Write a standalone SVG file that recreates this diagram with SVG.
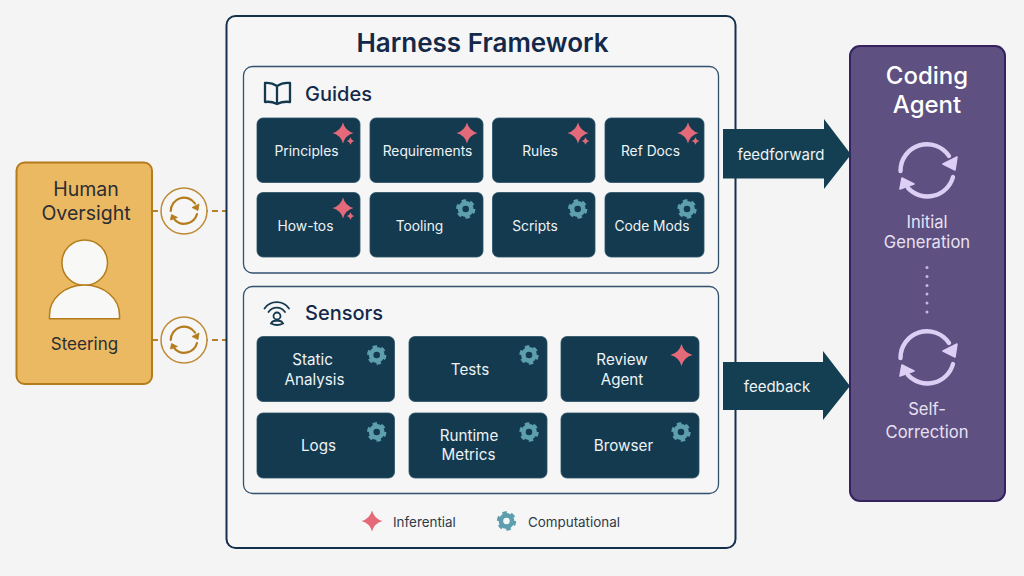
<svg xmlns="http://www.w3.org/2000/svg" width="1024" height="576" viewBox="0 0 1024 576">
<style>
text{font-family:Inter,"Noto Sans","Liberation Sans",sans-serif;text-anchor:middle}
.card{fill:#143a50;stroke:#2a5066;stroke-width:.8}
.cl{fill:#eef3f5;font-size:13.8px}
.cs{fill:#eef3f5;font-size:15.2px}
.panel{fill:#f6f6f6;stroke:#33506e;stroke-width:1.3}
.h{fill:#14294a;font-size:20px;font-weight:500;text-anchor:start}
.ag{fill:#e8e1f2;font-size:16.6px}
.lg{fill:#2e3a46;font-size:13.4px;text-anchor:start}
.dash{stroke:#b8802a;stroke-width:2;stroke-dasharray:6 4;fill:none}
.arr{fill:#143f52}
</style>
<defs>
<path id="star" d="M0-10.500Q2.200-2.200 10.500 0Q2.200 2.200 0 10.500Q-2.200 2.200-10.500 0Q-2.200-2.200 0-10.500Z" fill="#e46a7a"/>
<g id="star2"><use href="#star"/><use href="#star" transform="translate(7.500 8) scale(.36)"/></g>
<g id="gear" fill="none" stroke="#5e9fae">
<circle r="5.600" stroke-width="4.600"/>
<circle r="8.100" stroke-width="3.200" stroke-dasharray="4.400 4.080"/>
</g>
<g id="cyc">
<path d="M-26.500 0A26.500 26.500 0 0 1 22-15" fill="none" stroke="currentColor" stroke-width="4.400" stroke-linecap="round"/>
<path d="M26 6A26.500 26.500 0 0 1-19 17" fill="none" stroke="currentColor" stroke-width="4.400" stroke-linecap="round"/>
<path d="M16-7L30-14L28-1ZM-27 18L-25 7L-13 13Z" fill="currentColor" stroke="currentColor" stroke-width="1.600" stroke-linejoin="round"/>
</g>
</defs>
<rect width="1024" height="576" fill="#f4f4f4"/>

<g id="connectors">
<path class="dash" d="M152 211H226M152 340H226"/>
</g>

<g id="harness">
<rect x="226.500" y="16" width="509" height="532" rx="9" fill="#f6f6f6" stroke="#14304d" stroke-width="2"/>
<text x="482.500" y="52" fill="#14294a" style="font-size:26px;font-weight:600">Harness Framework</text>
</g>

<g id="guides">
<rect class="panel" x="243.500" y="66.500" width="475" height="206.500" rx="9"/>
<path d="M277 86Q271 82 265 83V102Q271 101 277 104Q283 101 290 102V83Q283 82 277 86V104" fill="none" stroke="#14394f" stroke-width="2.300" stroke-linejoin="round"/>
<text class="h" x="305" y="100.500">Guides</text>
</g>

<g id="g-principles"><rect class="card" x="257" y="118" width="103" height="64.500" rx="6"/><text class="cl" x="306.500" y="156">Principles</text><use href="#star2" transform="translate(343 133)"/></g>
<g id="g-requirements"><rect class="card" x="370" y="118" width="113" height="64.500" rx="6"/><text class="cl" x="427.500" y="156">Requirements</text><use href="#star" transform="translate(467 133)"/></g>
<g id="g-rules"><rect class="card" x="492.500" y="118" width="102.500" height="64.500" rx="6"/><text class="cl" x="540" y="156">Rules</text><use href="#star2" transform="translate(578 133)"/></g>
<g id="g-refdocs"><rect class="card" x="605" y="118" width="99" height="64.500" rx="6"/><text class="cl" x="650.500" y="156">Ref Docs</text><use href="#star2" transform="translate(688 133)"/></g>
<g id="g-howtos"><rect class="card" x="257" y="192.500" width="103" height="64.500" rx="6"/><text class="cl" x="305.500" y="231">How-tos</text><use href="#star2" transform="translate(343 208)"/></g>
<g id="g-tooling"><rect class="card" x="370" y="192.500" width="113" height="64.500" rx="6"/><text class="cl" x="419.500" y="231">Tooling</text><use href="#gear" transform="translate(465.700 209)"/></g>
<g id="g-scripts"><rect class="card" x="492.500" y="192.500" width="102.500" height="64.500" rx="6"/><text class="cl" x="535" y="231">Scripts</text><use href="#gear" transform="translate(577.700 209)"/></g>
<g id="g-codemods"><rect class="card" x="605" y="192.500" width="99" height="64.500" rx="6"/><text class="cl" x="652" y="231">Code Mods</text><use href="#gear" transform="translate(687 209)"/></g>

<g id="sensors">
<rect class="panel" x="243.500" y="286.500" width="475" height="207" rx="9"/>
<g fill="none" stroke="#14394f" stroke-width="1.800" stroke-linecap="round">
<path d="M264.500 308.500A15 15 0 0 1 289 308.500M268.500 312A10 10 0 0 1 285 312"/>
<circle cx="277" cy="316" r="3.500"/>
<path d="M271 323.500Q273 320 277 321Q281 320 283 323.500Q277 326.500 271 323.500Z"/>
</g>
<text class="h" x="305" y="319.500">Sensors</text>
</g>

<g id="s-static"><rect class="card" x="257" y="336.500" width="137.500" height="65" rx="6"/><text class="cs" x="312.500" y="365">Static</text><text class="cs" x="314.500" y="384.500">Analysis</text><use href="#gear" transform="translate(376.700 355)"/></g>
<g id="s-tests"><rect class="card" x="409" y="336.500" width="138" height="65" rx="6"/><text class="cs" x="470" y="374.500">Tests</text><use href="#gear" transform="translate(529 355)"/></g>
<g id="s-review"><rect class="card" x="561" y="336.500" width="138" height="65" rx="6"/><text class="cs" x="622" y="365">Review</text><text class="cs" x="622" y="384.500">Agent</text><use href="#star" transform="translate(681.500 355) scale(1.050)"/></g>
<g id="s-logs"><rect class="card" x="257" y="413" width="137.500" height="65" rx="6"/><text class="cs" x="318.500" y="451">Logs</text><use href="#gear" transform="translate(376.700 432)"/></g>
<g id="s-runtime"><rect class="card" x="409" y="413" width="138" height="65" rx="6"/><text class="cs" x="469" y="441">Runtime</text><text class="cs" x="468.500" y="460">Metrics</text><use href="#gear" transform="translate(529 432)"/></g>
<g id="s-browser"><rect class="card" x="561" y="413" width="138" height="65" rx="6"/><text class="cs" x="623.500" y="451">Browser</text><use href="#gear" transform="translate(681 432)"/></g>

<g id="legend">
<use href="#star" transform="translate(372 521)"/>
<text class="lg" x="393" y="527">Inferential</text>
<use href="#gear" transform="translate(506.500 521)"/>
<text class="lg" x="528" y="527">Computational</text>
</g>

<g id="human">
<rect x="16.500" y="162.500" width="135.500" height="221.500" rx="8" fill="#ebb962" stroke="#b47c1c" stroke-width="2"/>
<text x="86" y="196" fill="#2b2d33" style="font-size:19.500px;font-weight:400">Human</text>
<text x="86" y="220" fill="#2b2d33" style="font-size:19.500px;font-weight:400">Oversight</text>
<circle cx="84.700" cy="262.700" r="22.800" fill="#f8f8f6" stroke="#b47c1c" stroke-width="1.500"/>
<path d="M49.500 318.700V315A35 30 0 0 1 119.500 315V318.700Z" fill="#f8f8f6" stroke="#b47c1c" stroke-width="1.500"/>
<text x="84.500" y="350" fill="#2b2d33" style="font-size:17px">Steering</text>
</g>

<g id="loop-top"><circle cx="184" cy="211" r="23" fill="#f6f6f6" stroke="#bd8a36" stroke-width="1.500"/><use href="#cyc" transform="translate(184 211) scale(.5)" color="#b47c1c"/></g>
<g id="loop-bottom"><circle cx="184" cy="340" r="23" fill="#f6f6f6" stroke="#bd8a36" stroke-width="1.500"/><use href="#cyc" transform="translate(184 340) scale(.5)" color="#b47c1c"/></g>

<g id="agent">
<rect x="850" y="46" width="155" height="455" rx="10" fill="#5e5080" stroke="#35235f" stroke-width="2"/>
<text x="927" y="84" fill="#fff" style="font-size:24px;font-weight:500">Coding</text>
<text x="927" y="113" fill="#fff" style="font-size:24px;font-weight:500">Agent</text>
<use href="#cyc" transform="translate(927 171)" color="#dccff5"/>
<text class="ag" x="927" y="228">Initial</text>
<text class="ag" x="927" y="248">Generation</text>
<g fill="#c9b6e6"><circle cx="927" cy="267.500" r="1.500"/><circle cx="927" cy="276.500" r="1.500"/><circle cx="927" cy="285.500" r="1.500"/><circle cx="927" cy="294" r="1.500"/><circle cx="927" cy="303" r="1.500"/><circle cx="927" cy="312" r="1.500"/></g>
<use href="#cyc" transform="translate(927 358)" color="#dccff5"/>
<text class="ag" x="927" y="415">Self-</text>
<text class="ag" x="927" y="438">Correction</text>
</g>

<g id="flow-arrows">
<path class="arr" d="M723 129H824V119L851 154.500L824 189V178.500H723Z"/>
<text x="781" y="160" fill="#eef3f5" style="font-size:15px">feedforward</text>
<path class="arr" d="M723 362H823V351L850 386L823 420V410H723Z"/>
<text x="777" y="392" fill="#eef3f5" style="font-size:15px">feedback</text>
</g>
</svg>
